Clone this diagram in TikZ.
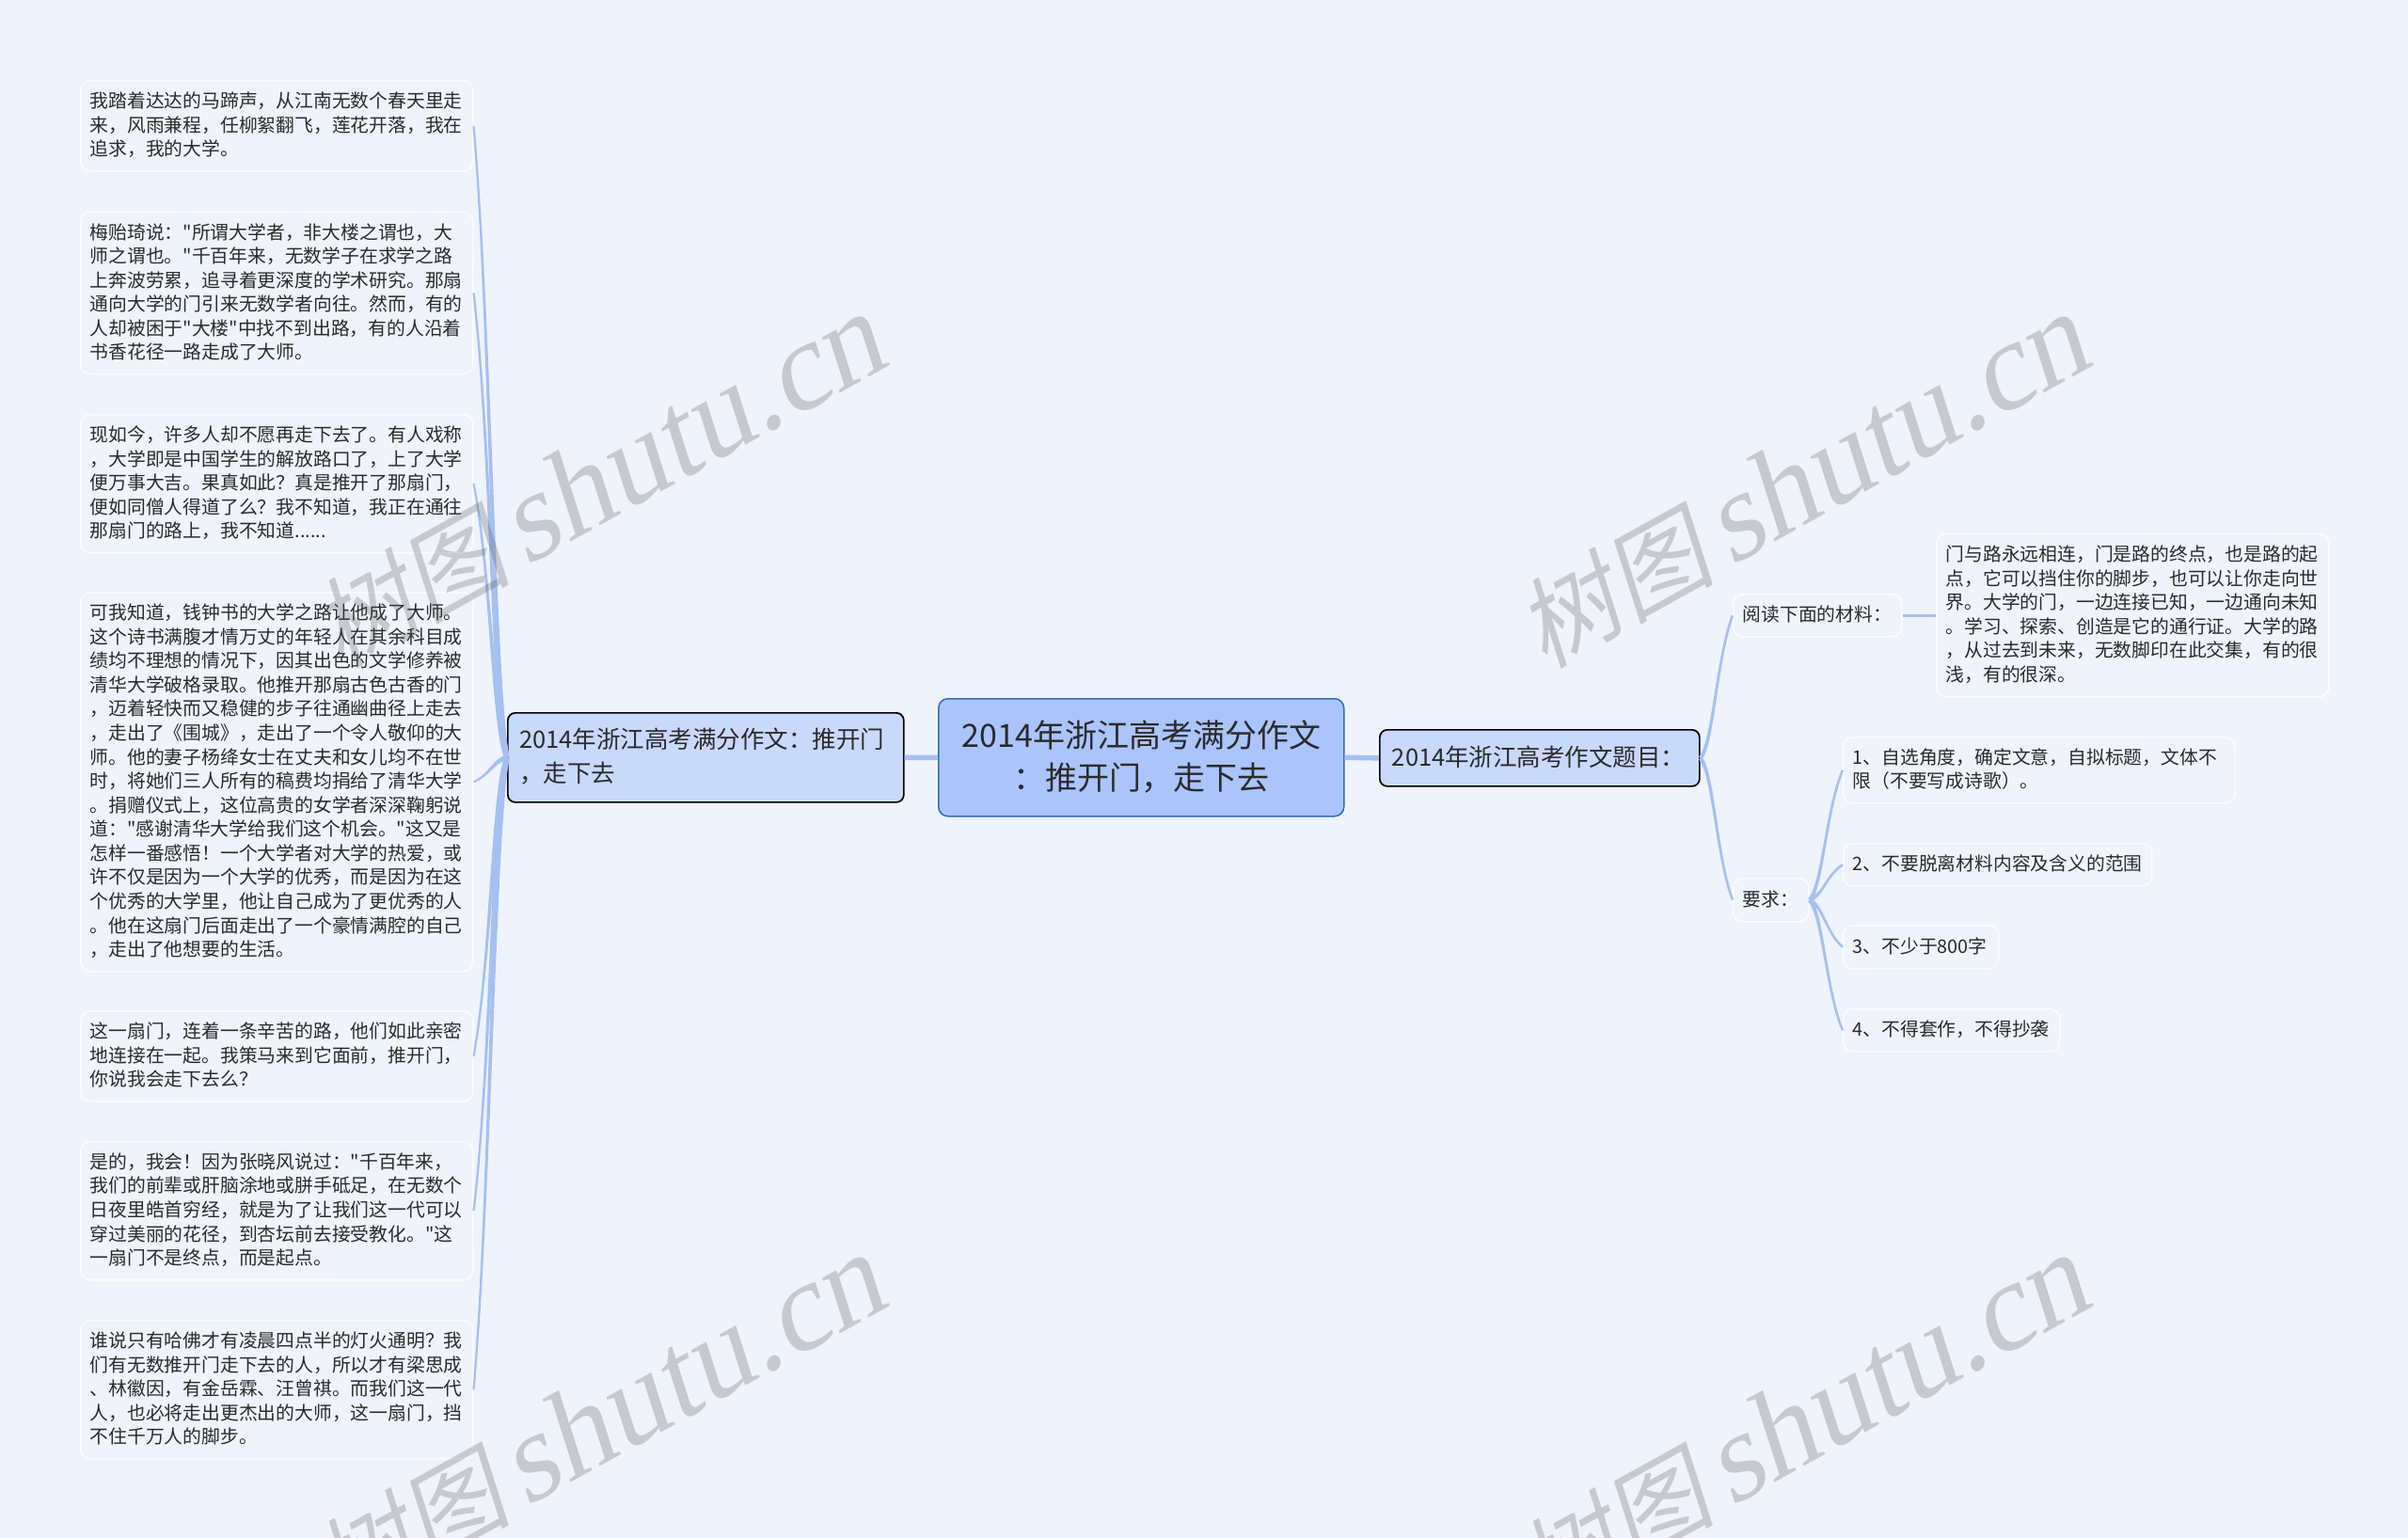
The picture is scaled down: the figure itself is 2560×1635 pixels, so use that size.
\documentclass[tikz,border=0pt]{standalone}
\usepackage{fontspec}
\newfontfamily\cjkbody{Noto Sans CJK SC}
\newfontfamily\wmlatin[FakeSlant=0.2]{Liberation Serif}
\newfontfamily\wmcjk[FakeSlant=0.2]{Noto Sans CJK SC}
\usetikzlibrary{calc}
\definecolor{bgc}{HTML}{EEF3FC}
\definecolor{linkc}{HTML}{A5C0F1}
\definecolor{rootf}{HTML}{ABC4FC}
\definecolor{rootb}{HTML}{2F6FB7}
\definecolor{mainf}{HTML}{C9D9FC}
\definecolor{leafb}{HTML}{FBFCFF}
\definecolor{txt}{HTML}{2B2B2B}
\definecolor{wmc}{HTML}{505050}
\tikzset{
  boxbase/.style={anchor=north west,inner sep=0pt,align=left,text=txt},
  leafbox/.style={boxbase,draw=leafb,fill=bgc,line width=1.5pt,rounded corners=10pt,
     font=\cjkbody\fontsize{19.8}{25.57}\selectfont},
  mainbox/.style={boxbase,draw=black,fill=mainf,line width=1.7pt,rounded corners=8pt,
     font=\cjkbody\fontsize{25.5}{35.7}\selectfont},
  rootbox/.style={boxbase,align=center,draw=rootb,fill=rootf,line width=1.5pt,rounded corners=10pt,
     font=\cjkbody\fontsize{34}{45}\selectfont},
  linkfill/.style={fill=linkc,draw=none},
  straightlink/.style={draw=linkc},
  wmark/.style={rotate=29,text=wmc,opacity=0.25,inner sep=0pt}
}
% #1 style, #2 name, #3 x1, #4 y1, #5 x2, #6 y2, #7 left pad, #8 text
\newcommand{\bx}[8]{%
  \pgfmathsetlengthmacro{\bw}{#5-#3}%
  \pgfmathsetlengthmacro{\bh}{#6-#4}%
  \pgfmathsetlengthmacro{\tw}{#5-#3-2*#7}%
  \node[#1,minimum width=\bw,minimum height=\bh,text width=\tw] (#2) at (#3,#4) {#8\par\vspace{2pt}};%
}
% tapered connector: #1 thin end, #2 thick end, #3 width at thin end, #4 width at thick end
\newcommand{\taper}[4]{%
  \path let \p1=(#1),\p2=(#2) in
    coordinate (P0) at (\p1)
    coordinate (C1) at ({\x1+0.5*(\x2-\x1)},{\y1+0.3*(\y2-\y1)})
    coordinate (C2) at ({\x1+0.6*(\x2-\x1)},{\y1+0.9*(\y2-\y1)})
    coordinate (P3) at (\p2);
  \fill[linkfill]
    ($(P0)!#3*0.5pt!90:(C1)$) .. controls ($(C1)!#3*0.5pt!-90:(P0)$) and ($(C2)!#4*0.5pt!90:(P3)$) .. ($(P3)!#4*0.5pt!-90:(C2)$)
    -- ($(P3)!#4*0.5pt!90:(C2)$) .. controls ($(C2)!#4*0.5pt!-90:(P3)$) and ($(C1)!#3*0.5pt!90:(P0)$) .. ($(P0)!#3*0.5pt!-90:(C1)$) -- cycle;
}
\begin{document}
\begin{tikzpicture}[x=1pt,y=-1pt]
\useasboundingbox (0,0) rectangle (2560,1635);
\clip (0,0) rectangle (2560,1635);
\fill[bgc] (0,0) rectangle (2560,1635);

\bx{rootbox}{root}{997}{742}{1428}{867}{12}{2014年浙江高考满分作文\\：推开门，走下去}
\bx{mainbox}{lm}{539}{757}{960}{852}{12.5}{2014年浙江高考满分作文：推开门\\，走下去}
\bx{mainbox}{rm}{1466}{775}{1806}{835}{13}{2014年浙江高考作文题目：}

\bx{leafbox}{la}{85}{85}{502}{181}{10}{我踏着达达的马蹄声，从江南无数个春天里走\\来，风雨兼程，任柳絮翻飞，莲花开落，我在\\追求，我的大学。}
\bx{leafbox}{lb}{85}{224.5}{502}{397}{10}{梅贻琦说："所谓大学者，非大楼之谓也，大\\师之谓也。"千百年来，无数学子在求学之路\\上奔波劳累，追寻着更深度的学术研究。那扇\\通向大学的门引来无数学者向往。然而，有的\\人却被困于"大楼"中找不到出路，有的人沿着\\书香花径一路走成了大师。}
\bx{leafbox}{lc}{85}{440}{502}{587}{10}{现如今，许多人却不愿再走下去了。有人戏称\\，大学即是中国学生的解放路口了，上了大学\\便万事大吉。果真如此？真是推开了那扇门，\\便如同僧人得道了么？我不知道，我正在通往\\那扇门的路上，我不知道......}
\bx{leafbox}{ld}{85}{629}{502}{1032}{10}{可我知道，钱钟书的大学之路让他成了大师。\\这个诗书满腹才情万丈的年轻人在其余科目成\\绩均不理想的情况下，因其出色的文学修养被\\清华大学破格录取。他推开那扇古色古香的门\\，迈着轻快而又稳健的步子往通幽曲径上走去\\，走出了《围城》，走出了一个令人敬仰的大\\师。他的妻子杨绛女士在丈夫和女儿均不在世\\时，将她们三人所有的稿费均捐给了清华大学\\。捐赠仪式上，这位高贵的女学者深深鞠躬说\\道："感谢清华大学给我们这个机会。"这又是\\怎样一番感悟！一个大学者对大学的热爱，或\\许不仅是因为一个大学的优秀，而是因为在这\\个优秀的大学里，他让自己成为了更优秀的人\\。他在这扇门后面走出了一个豪情满腔的自己\\，走出了他想要的生活。}
\bx{leafbox}{le}{85}{1074}{502}{1170}{10}{这一扇门，连着一条辛苦的路，他们如此亲密\\地连接在一起。我策马来到它面前，推开门，\\你说我会走下去么？}
\bx{leafbox}{lf}{85}{1213}{502}{1360}{10}{是的，我会！因为张晓风说过："千百年来，\\我们的前辈或肝脑涂地或胼手砥足，在无数个\\日夜里皓首穷经，就是为了让我们这一代可以\\穿过美丽的花径，到杏坛前去接受教化。"这\\一扇门不是终点，而是起点。}
\bx{leafbox}{lg}{85}{1403}{502}{1550}{10}{谁说只有哈佛才有凌晨四点半的灯火通明？我\\们有无数推开门走下去的人，所以才有梁思成\\、林徽因，有金岳霖、汪曾祺。而我们这一代\\人，也必将走出更杰出的大师，这一扇门，挡\\不住千万人的脚步。}

\bx{leafbox}{ra}{1842}{631}{2021}{676}{10}{阅读下面的材料：}
\bx{leafbox}{rb}{2058}{567}{2475}{740}{10}{门与路永远相连，门是路的终点，也是路的起\\点，它可以挡住你的脚步，也可以让你走向世\\界。大学的门，一边连接已知，一边通向未知\\。学习、探索、创造是它的通行证。大学的路\\，从过去到未来，无数脚印在此交集，有的很\\浅，有的很深。}
\bx{leafbox}{rq}{1842}{933}{1922}{979}{10}{要求：}
\bx{leafbox}{ia}{1959}{783}{2375.5}{853}{10}{1、自选角度，确定文意，自拟标题，文体不\\限（不要写成诗歌）。}
\bx{leafbox}{ib}{1959}{896}{2287}{941}{10}{2、不要脱离材料内容及含义的范围}
\bx{leafbox}{ic}{1959}{983}{2124}{1029}{10}{3、不少于800字}
\bx{leafbox}{id}{1959}{1072}{2189}{1117}{10}{4、不得套作，不得抄袭}

\draw[straightlink,line width=5.5pt] (lm.east) -- (root.west);
\draw[straightlink,line width=5.5pt] (root.east) -- (rm.west);
\draw[straightlink,line width=3pt] (ra.east) -- (rb.west);

\foreach \lk in {la,lb,lc,ld,le,lf,lg} {\taper{\lk.east}{lm.west}{2.2}{5.5}}
\taper{ra.west}{rm.east}{2.6}{4.2}
\taper{rq.west}{rm.east}{2.6}{4.2}
\foreach \lk in {ia,ib,ic,id} {\taper{\lk.west}{rq.east}{2.6}{4.2}}

\foreach \dx/\dy in {0/0,1280/0,0/1000,1280/1000} {
  \node[wmark] at ($(635,513)+(\dx,\dy)$) {{\wmcjk\fontsize{105}{105}\selectfont 树图}\hspace{16pt}{\wmlatin\fontsize{132}{132}\selectfont shutu.cn}};
}
\end{tikzpicture}
\end{document}
